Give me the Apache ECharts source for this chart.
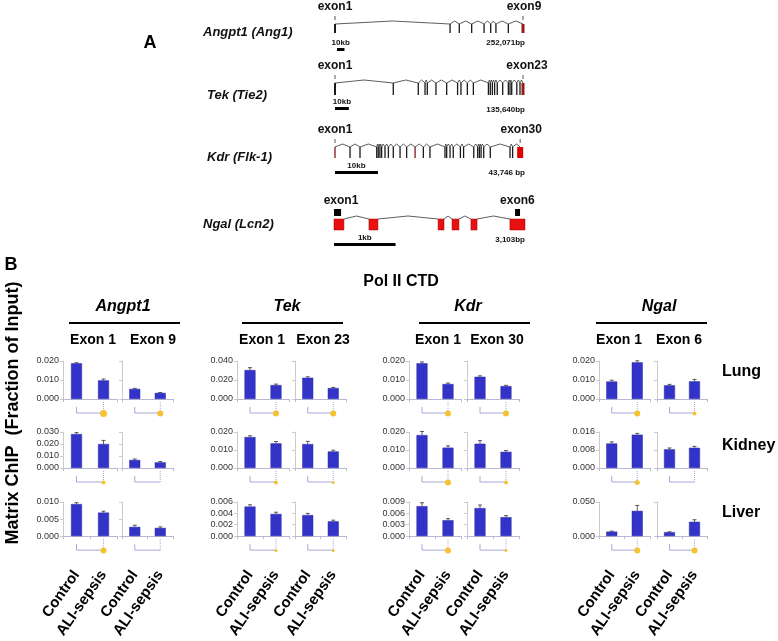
<!DOCTYPE html>
<html><head><meta charset="utf-8">
<script src="https://cdn.jsdelivr.net/npm/echarts@6/dist/echarts.min.js"></script>
<style>html,body{margin:0;padding:0;background:#fff}#c{width:778px;height:641px}</style>
</head><body><div id="c"></div>
<script>
// ---------------- DATA ----------------
const geneNames = ['Angpt1 (Ang1)', 'Tek (Tie2)', 'Kdr (Flk-1)', 'Ngal (Lcn2)'];
const geneExonNames = [['exon1','exon9'], ['exon1','exon23'], ['exon1','exon30'], ['exon1','exon6']];
const geneLengthLabels = ['252,071bp', '135,640bp', '43,746 bp', '3,103bp'];
const geneLengthsBp = [252071, 135640, 43746, 3103];
const scaleBarBp = [10000, 10000, 10000, 1000];
const scaleBarLabels = ['10kb', '10kb', '10kb', '1kb'];
// exon positions as fraction of gene length
const angpt1Exons = [0, 0.612, 0.661, 0.727, 0.793, 0.828, 0.856, 0.922, 1.0];
const tekExons = [0, 0.310, 0.443, 0.479, 0.491, 0.537, 0.594, 0.652, 0.670, 0.704, 0.736, 0.816, 0.826, 0.837, 0.849, 0.863, 0.892, 0.922, 0.931, 0.940, 0.967, 0.984, 1.0];
const kdrExons = [0, 0.080, 0.133, 0.222, 0.230, 0.239, 0.248, 0.266, 0.284, 0.310, 0.346, 0.381, 0.426, 0.470, 0.505, 0.585, 0.594, 0.612, 0.629, 0.667, 0.684, 0.738, 0.759, 0.768, 0.777, 0.791, 0.826, 0.931, 0.945, 0.985];
const ngalExons = [[0, 0.052], [0.183, 0.230], [0.545, 0.576], [0.618, 0.654], [0.717, 0.749], [0.921, 1.0]];
const ngalAmplicons = [[0, 0.037], [0.948, 0.974]];

const genes = ['Angpt1', 'Tek', 'Kdr', 'Ngal'];
const exonLabels = [['Exon 1', 'Exon 9'], ['Exon 1', 'Exon 23'], ['Exon 1', 'Exon 30'], ['Exon 1', 'Exon 6']];
const tissues = ['Lung', 'Kidney', 'Liver'];
const groups = ['Control', 'ALI-sepsis'];
// per chart (Angpt1 E1, Angpt1 E9, Tek E1, Tek E23, Kdr E1, Kdr E30, Ngal E1, Ngal E6): [Control, ALI-sepsis]
const lungValues   = [[0.0188, 0.0098], [0.0053, 0.0032], [0.0305, 0.0147], [0.0224, 0.0115], [0.0188, 0.0079], [0.0117, 0.0068], [0.0092, 0.0193], [0.0072, 0.0093]];
const lungErrors   = [[0.0003, 0.0007], [0.0003, 0.0002], [0.0025, 0.0010], [0.0010, 0.0007], [0.0007, 0.0005], [0.0005, 0.0004], [0.0007, 0.0008], [0.0005, 0.0010]];
const kidneyValues = [[0.0283, 0.0200], [0.0067, 0.0047], [0.0172, 0.0137], [0.0133, 0.0092], [0.0183, 0.0113], [0.0135, 0.0090], [0.0109, 0.0148], [0.0083, 0.0090]];
const kidneyErrors = [[0.0012, 0.0030], [0.0008, 0.0007], [0.0007, 0.0010], [0.0015, 0.0007], [0.0020, 0.0010], [0.0017, 0.0007], [0.0007, 0.0006], [0.0006, 0.0006]];
const liverValues  = [[0.0094, 0.0069], [0.0027, 0.0024], [0.0052, 0.0039], [0.0037, 0.0026], [0.0079, 0.0042], [0.0074, 0.0050], [0.0066, 0.0370], [0.0058, 0.0210]];
const liverErrors  = [[0.0004, 0.0004], [0.0005, 0.0003], [0.0003, 0.0003], [0.0003, 0.0002], [0.0009, 0.0004], [0.0008, 0.0004], [0.0007, 0.0080], [0.0005, 0.0030]];
const axisMax      = [[0.02, 0.04, 0.02, 0.02], [0.03, 0.02, 0.02, 0.016], [0.01, 0.006, 0.009, 0.05]];
const axisInterval = [[0.01, 0.02, 0.01, 0.01], [0.01, 0.01, 0.01, 0.008], [0.005, 0.002, 0.003, 0.05]];
const markerSizes  = [[7, 6, 6, 6, 6, 6, 6, 4], [4, 0, 4, 3, 6, 4, 5, 0], [6, 0, 3, 3, 6, 3, 6, 6]];

// ---------------- LAYOUT ----------------
const FONT = '"Liberation Sans", Arial, Helvetica, sans-serif';
const chart = echarts.init(document.getElementById('c'));
const grid = [], xAxis = [], yAxis = [], series = [], graphic = [];
let gi = 0;

function hiddenAxes(i) {
  xAxis.push({gridIndex: i, type: 'value', min: 0, max: 1, show: false});
  yAxis.push({gridIndex: i, type: 'value', min: 0, max: 1, show: false});
}

// gene diagram rows
const geneRows = [
  {left: 335, width: 188, top: 24, h: 9, exons: angpt1Exons},
  {left: 335, width: 188, top: 83, h: 12, exons: tekExons},
  {left: 335, width: 188, top: 147, h: 11, exons: kdrExons},
  {left: 334, width: 191, top: 219, h: 11, exons: ngalExons}
];
geneRows.forEach((row, g) => {
  grid.push({left: row.left, top: row.top, width: row.width, height: row.h});
  hiddenAxes(gi);
  series.push({
    type: 'custom', xAxisIndex: gi, yAxisIndex: gi, data: [[0, 0]], clip: false, silent: true,
    renderItem: function (params, api) {
      const ch = [];
      const top = api.coord([0, 1])[1], bot = api.coord([0, 0])[1];
      const X = p => api.coord([p, 0])[0];
      const txt = (x, y, t, size, align) => ({type: 'text', x: x, y: y, style: {text: t, fill: '#111', font: 'bold ' + size + 'px ' + FONT, align: align || 'center', verticalAlign: 'middle'}});
      if (g < 3) {
        const xs = row.exons.map(X);
        for (let i = 0; i < xs.length - 1; i++) {
          const a = xs[i], b = xs[i + 1];
          ch.push({type: 'polyline', shape: {points: [[a, top], [(a + b) / 2, top - 3], [b, top]]}, style: {stroke: '#333', lineWidth: 0.8, fill: null}});
        }
        xs.forEach((x, i) => {
          const last = i === xs.length - 1;
          let color = '#1a1a1a', w = 1.3;
          if (i === 0 && g < 2) w = 2;
          if (g === 2 && (i === 0 || i === 12)) color = '#7a1c1c';
          if (last) { color = g === 2 ? '#e00000' : '#9b1b1b'; w = g === 2 ? 6 : 3; }
          ch.push({type: 'line', shape: {x1: x, y1: top, x2: x, y2: bot}, style: {stroke: color, lineWidth: w}});
        });
        [xs[0], xs[xs.length - 1]].forEach(x => ch.push({type: 'line', shape: {x1: x, y1: top - 8, x2: x, y2: top - 4}, style: {stroke: '#555', lineWidth: 1}}));
        ch.push(txt(xs[0], top - 17, geneExonNames[g][0], 12));
        ch.push(txt(xs[xs.length - 1] + (g === 1 ? 4 : 1), top - 17, geneExonNames[g][1], 12));
      } else {
        const ex = row.exons;
        for (let i = 0; i < ex.length - 1; i++) {
          const a = X(ex[i][1]), b = X(ex[i + 1][0]);
          ch.push({type: 'polyline', shape: {points: [[a, top], [(a + b) / 2, top - 3], [b, top]]}, style: {stroke: '#333', lineWidth: 0.8, fill: null}});
        }
        ex.forEach(e => { const a = X(e[0]), b = X(e[1]); ch.push({type: 'rect', shape: {x: a, y: top, width: b - a, height: bot - top}, style: {fill: '#e81010', stroke: '#900', lineWidth: 0.5}}); });
        ngalAmplicons.forEach(e => { const a = X(e[0]), b = X(e[1]); ch.push({type: 'rect', shape: {x: a, y: top - 10, width: b - a, height: 7}, style: {fill: '#000'}}); });
        ch.push(txt((X(ex[0][0]) + X(ex[0][1])) / 2 + 2, top - 18, geneExonNames[g][0], 12));
        ch.push(txt((X(ex[5][0]) + X(ex[5][1])) / 2, top - 18, geneExonNames[g][1], 12));
      }
      // scale bar
      const s0 = X(0), s1 = X(scaleBarBp[g] / geneLengthsBp[g]);
      const off = g === 0 ? 2 : 0;
      ch.push({type: 'rect', shape: {x: s0 + off, y: top + 24, width: s1 - s0, height: 3}, style: {fill: '#000'}});
      ch.push(txt((s0 + s1) / 2 + off, top + 19, scaleBarLabels[g], 8));
      return {type: 'group', children: ch};
    }
  });
  gi++;
});

// gene name labels and bp labels
const geneNameX = [203, 207, 207, 203];
const geneNameY = [32, 95, 157, 224];
const bpY = [43, 110, 173, 240];
geneNames.forEach((n, g) => {
  graphic.push({type: 'text', x: geneNameX[g], y: geneNameY[g], style: {text: n, fill: '#111', font: 'italic bold 13px ' + FONT, align: 'left', verticalAlign: 'middle'}});
  graphic.push({type: 'text', x: 525, y: bpY[g], style: {text: geneLengthLabels[g], fill: '#111', font: 'bold 8px ' + FONT, align: 'right', verticalAlign: 'middle'}});
});
graphic.push({type: 'text', x: 150, y: 43, style: {text: 'A', fill: '#000', font: 'bold 18px ' + FONT, align: 'center', verticalAlign: 'middle'}});
graphic.push({type: 'text', x: 11, y: 265, style: {text: 'B', fill: '#000', font: 'bold 18px ' + FONT, align: 'center', verticalAlign: 'middle'}});
graphic.push({type: 'text', x: 401, y: 282, style: {text: 'Pol II CTD', fill: '#000', font: 'bold 16px ' + FONT, align: 'center', verticalAlign: 'middle'}});
graphic.push({type: 'text', x: 13, y: 413, rotation: Math.PI / 2, style: {text: 'Matrix ChIP  (Fraction of Input)', fill: '#000', font: 'bold 18px ' + FONT, align: 'center', verticalAlign: 'middle'}});

const headerX = [123, 287, 468, 659];
const lineX = [[69, 180], [242, 343], [419, 530], [596, 707]];
const exonLabelX = [[93, 153], [262, 323], [438, 497], [619, 679]];
genes.forEach((gname, g) => {
  graphic.push({type: 'text', x: headerX[g], y: 307, style: {text: gname, fill: '#000', font: 'italic bold 16px ' + FONT, align: 'center', verticalAlign: 'middle'}});
  graphic.push({type: 'line', shape: {x1: lineX[g][0], y1: 323, x2: lineX[g][1], y2: 323}, style: {stroke: '#000', lineWidth: 2}});
  exonLabels[g].forEach((t, k) => graphic.push({type: 'text', x: exonLabelX[g][k], y: 340, style: {text: t, fill: '#000', font: 'bold 14px ' + FONT, align: 'center', verticalAlign: 'middle'}}));
});
const tissueY = [372, 446, 513];
tissues.forEach((t, r) => graphic.push({type: 'text', x: 722, y: tissueY[r], style: {text: t, fill: '#000', font: 'bold 16px ' + FONT, align: 'left', verticalAlign: 'middle'}}));

// bar charts
const colLeft = [63, 122, 237, 295, 409, 467, 599, 657];
const colWidth = [54, 51, 52, 51, 52, 52, 51, 50];
const rowTop = [361, 432, 502];
const rowHeight = [38, 36, 37];
const rowValues = [lungValues, kidneyValues, liverValues];
const rowErrors = [lungErrors, kidneyErrors, liverErrors];

for (let r = 0; r < 3; r++) {
  for (let c = 0; c < 8; c++) {
    const g = Math.floor(c / 2);
    grid.push({left: colLeft[c], top: rowTop[r], width: colWidth[c], height: rowHeight[r]});
    xAxis.push({
      gridIndex: gi, type: 'category', data: groups,
      axisLine: {lineStyle: {color: '#B8B8D4', width: 1}},
      axisTick: {show: true, length: 3, lineStyle: {color: '#B8B8D4'}},
      axisLabel: r === 2 ? {show: true, interval: 0, rotate: 55, margin: 36, color: '#000', fontFamily: FONT, fontWeight: 'bold', fontSize: 15} : {show: false}
    });
    yAxis.push({
      gridIndex: gi, type: 'value', min: 0, max: axisMax[r][g], interval: axisInterval[r][g],
      axisLine: {show: true, lineStyle: {color: '#CBCBCB'}},
      axisTick: {show: true, length: 3, lineStyle: {color: '#CBCBCB'}},
      splitLine: {show: false},
      axisLabel: c % 2 === 0 ? {show: true, fontSize: 9, color: '#333', fontFamily: FONT, margin: 4, formatter: v => v.toFixed(3)} : {show: false}
    });
    const vals = rowValues[r][c], errs = rowErrors[r][c];
    series.push({type: 'bar', xAxisIndex: gi, yAxisIndex: gi, data: vals, barWidth: 11, silent: true,
      itemStyle: {color: '#3333C8', borderColor: '#2828A8', borderWidth: 0.5}});
    series.push({type: 'custom', xAxisIndex: gi, yAxisIndex: gi, clip: false, silent: true, z: 5,
      data: vals.map((v, i) => [i, v, errs[i]]), encode: {x: 0, y: 1},
      renderItem: function (params, api) {
        const p = api.coord([api.value(0), api.value(1)]);
        const q = api.coord([api.value(0), api.value(1) + api.value(2)]);
        return {type: 'group', children: [
          {type: 'line', shape: {x1: p[0], y1: p[1], x2: q[0], y2: q[1]}, style: {stroke: '#333', lineWidth: 0.8}},
          {type: 'line', shape: {x1: q[0] - 2, y1: q[1], x2: q[0] + 2, y2: q[1]}, style: {stroke: '#333', lineWidth: 0.8}}
        ]};
      }});
    series.push({type: 'custom', xAxisIndex: gi, yAxisIndex: gi, clip: false, silent: true,
      data: [[0, 0, markerSizes[r][c]]], encode: {x: 0, y: 1},
      renderItem: function (params, api) {
        const p0 = api.coord([0, 0]), p1 = api.coord([1, 0]);
        const y = p0[1] + 14, size = api.value(2);
        const ch = [
          {type: 'line', shape: {x1: p0[0], y1: p0[1] + 8, x2: p0[0], y2: y}, style: {stroke: '#A8A8DC', lineWidth: 1}},
          {type: 'line', shape: {x1: p0[0], y1: y, x2: p1[0], y2: y}, style: {stroke: '#A8A8DC', lineWidth: 1}},
          {type: 'line', shape: {x1: p1[0], y1: p0[1] + 3, x2: p1[0], y2: y}, style: {stroke: '#A8A8DC', lineWidth: 1, lineDash: [1, 1]}}
        ];
        if (size > 0) ch.push({type: 'circle', shape: {cx: p1[0], cy: y + 0.5, r: size / 2}, style: {fill: '#F5C232'}});
        return {type: 'group', children: ch};
      }});
    gi++;
  }
}

chart.setOption({animation: false, backgroundColor: '#fff', grid, xAxis, yAxis, series, graphic});
</script></body></html>
